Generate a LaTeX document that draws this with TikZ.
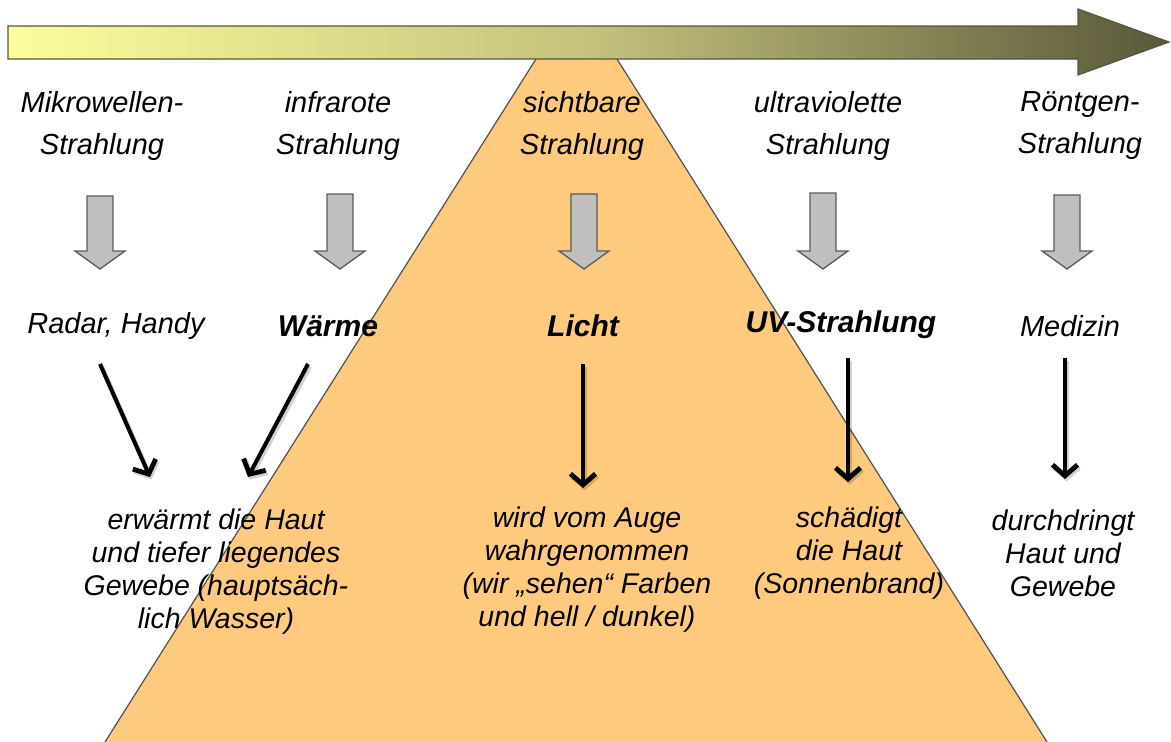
\documentclass[tikz,border=0pt]{standalone}
\usepackage{fontspec}
\setmainfont{Liberation Sans}
\usetikzlibrary{arrows.meta}
\definecolor{trifill}{HTML}{FECA7E}
\definecolor{triedge}{HTML}{505050}
\definecolor{barL}{HTML}{FDFD9C}
\definecolor{barM}{HTML}{C4C27C}
\definecolor{barR}{HTML}{59583A}
\definecolor{barEdge}{HTML}{55553F}
\definecolor{gfill}{HTML}{BFBFBF}
\definecolor{gedge}{HTML}{5A5A5A}
\tikzset{
  toplbl/.style={inner sep=0pt, align=center, font=\itshape\fontsize{29}{42}\selectfont},
  midlbl/.style={inner sep=0pt, align=center, font=\itshape\fontsize{29}{35}\selectfont},
  midbold/.style={inner sep=0pt, align=center, font=\bfseries\itshape\fontsize{30}{35}\selectfont},
  botlbl/.style={inner sep=0pt, align=center, font=\itshape\fontsize{28.5}{33}\selectfont},
  blackarrow/.style={line width=4pt, -{Straight Barb[length=11pt,width=25pt,line width=4.8pt]}},
  arrowshadow/.style={line width=5pt, black, opacity=0.18, -{Straight Barb[length=11pt,width=25pt,line width=5.5pt]}},
  grayarrow/.style={fill=gfill, draw=gedge, line width=1.3pt, line join=miter},
}
\begin{document}
\begin{tikzpicture}[x=1pt,y=-1pt]
\useasboundingbox (0,0) rectangle (1171,742);
% visible-light trapezoid
\begin{scope}
\clip (0,0) rectangle (1171,742);
\fill[trifill] (536,59) -- (617,59) -- (1047,742) -- (105,742) -- cycle;
\draw[triedge, line width=1.2pt] (536,59) -- (105,742);
\draw[triedge, line width=1.2pt] (617,59) -- (1047,742);
\end{scope}
% spectrum arrow
\shadedraw[left color=barL, right color=barR, middle color=barM, draw=barEdge, line width=1.2pt, line join=miter]
  (8,26) -- (1078,26) -- (1078,9) -- (1169,42) -- (1078,75) -- (1078,59) -- (8,59) -- cycle;
% top labels
\node[toplbl] (mw) at (102,126) {Mikrowellen-\\Strahlung};
\node[toplbl] (ir) at (338,126) {infrarote\\Strahlung};
\node[toplbl] (vis) at (582,126) {sichtbare\\Strahlung};
\node[toplbl] (uv) at (828,126) {ultraviolette\\Strahlung};
\node[toplbl] (xr) at (1080,126) {Röntgen-\\Strahlung};
% gray down arrows
\foreach \x/\t in {100/196,340/194,584/194,823/193,1067/195}{
  \filldraw[grayarrow] (\x-13,\t) -- (\x+13,\t) -- (\x+13,251) -- (\x+25,251) -- (\x,269) -- (\x-25,251) -- (\x-13,251) -- cycle;
}
% middle labels
\node[midlbl] (radar) at (116,326) {Radar, Handy};
\node[midbold] (waerme) at (328,326) {Wärme};
\node[midbold] (licht) at (583,326) {Licht};
\node[midbold] (uvs) at (841,325) {UV-Strahlung};
\node[midlbl] (med) at (1070,326) {Medizin};
% bottom labels
\node[botlbl] (haut) at (216,572) {erwärmt die Haut\\und tiefer liegendes\\Gewebe (hauptsäch-\\lich Wasser)};
\node[botlbl] (auge) at (587,570) {wird vom Auge\\wahrgenommen\\(wir „sehen“ Farben\\und hell / dunkel)};
\node[botlbl] (sonne) at (849,553) {schädigt\\die Haut\\(Sonnenbrand)};
\node[botlbl] (durch) at (1063,553) {durchdringt\\Haut und\\Gewebe};
% arrow end points
\coordinate (a1s) at (100,364); \coordinate (a1e) at (150,477);
\coordinate (a2s) at (308,364); \coordinate (a2e) at (248,477);
\coordinate (a3s) at (583,364); \coordinate (a3e) at (583,488);
\coordinate (a4s) at (848,358); \coordinate (a4e) at (848,482);
\coordinate (a5s) at (1065,358); \coordinate (a5e) at (1065,479);
% shadows
\foreach \p in {1,...,5}{
  \draw[arrowshadow, transform canvas={shift={(1.5pt,-2.5pt)}}] (a\p s) -- (a\p e);
}
% black arrows
\draw[blackarrow] (a1s) -- (a1e);
\draw[blackarrow] (a2s) -- (a2e);
\draw[blackarrow] (a3s) -- (a3e);
\draw[blackarrow] (a4s) -- (a4e);
\draw[blackarrow] (a5s) -- (a5e);
\end{tikzpicture}
\end{document}
